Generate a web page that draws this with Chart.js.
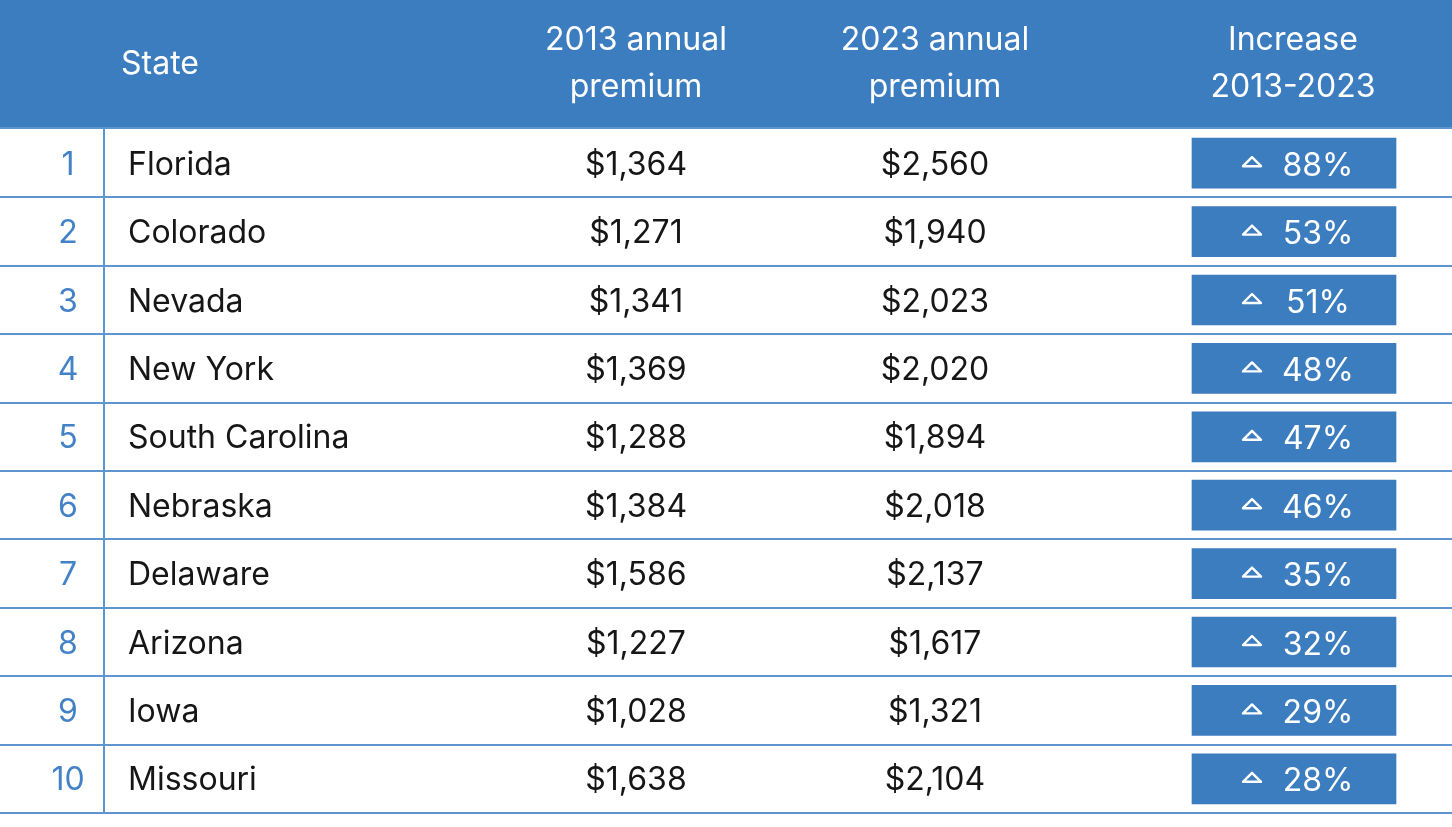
<!DOCTYPE html>
<html>
<head>
<meta charset="utf-8">
<script src="https://cdn.jsdelivr.net/npm/chart.js@4.4.0/dist/chart.umd.min.js"></script>
<style>
  html, body { margin: 0; padding: 0; background: #ffffff; }
  #wrap { width: 1452px; height: 827px; position: relative; }
</style>
</head>
<body>
<div id="wrap"><canvas id="c"></canvas></div>
<script>
// ---- DATA ----
const ranks = [1, 2, 3, 4, 5, 6, 7, 8, 9, 10];
const states = ["Florida", "Colorado", "Nevada", "New York", "South Carolina", "Nebraska", "Delaware", "Arizona", "Iowa", "Missouri"];
const premium2013 = [1364, 1271, 1341, 1369, 1288, 1384, 1586, 1227, 1028, 1638];
const premium2023 = [2560, 1940, 2023, 2020, 1894, 2018, 2137, 1617, 1321, 2104];
const increasePct = [88, 53, 51, 48, 47, 46, 35, 32, 29, 28];
const headerState = "State";
const header2013 = ["2013 annual", "premium"];
const header2023 = ["2023 annual", "premium"];
const headerIncrease = ["Increase", "2013-2023"];

// ---- LAYOUT / STYLE ----
const W = 1452, H = 827;
const HEADER_H = 127;
const BLUE = "#3c7dc0";
const LINE = "#5f95cf";
const RANK_COLOR = "#4382c6";
const TEXT = "#161616";
const FONT = "Inter, 'Noto Sans', sans-serif";
const FS = 32;
const TEXT_DY = 2;
const COL = { rankX: 68, divX: 104, stateX: 128, c2013: 636, c2023: 935, badgeL: 1192, badgeR: 1396, triX: 1252, pctX: 1318, headStateX: 121, headInc: 1293 };

const fmt = v => "$" + v.toLocaleString("en-US");

const tablePlugin = {
  id: "tablePlugin",
  beforeDraw(chart) {
    const ctx = chart.ctx;
    ctx.save();
    ctx.fillStyle = "#ffffff";
    ctx.fillRect(0, 0, W, H);
    ctx.fillStyle = BLUE;
    ctx.fillRect(0, 0, W, HEADER_H);
    // header text
    ctx.fillStyle = "#ffffff";
    ctx.font = FS + "px " + FONT;
    ctx.textBaseline = "alphabetic";
    ctx.textAlign = "left";
    ctx.fillText(headerState, COL.headStateX, 74);
    ctx.textAlign = "center";
    ctx.fillText(header2013[0], COL.c2013, 50);
    ctx.fillText(header2013[1], COL.c2013, 97);
    ctx.fillText(header2023[0], COL.c2023, 50);
    ctx.fillText(header2023[1], COL.c2023, 97);
    ctx.fillText(headerIncrease[0], COL.headInc, 50);
    ctx.fillText(headerIncrease[1], COL.headInc, 97);
    // row lines
    const y = chart.scales.y;
    ctx.strokeStyle = LINE;
    ctx.lineWidth = 2;
    const half = (y.getPixelForValue(1) - y.getPixelForValue(0)) / 2;
    for (let i = 0; i < states.length; i++) {
      const yb = Math.round(y.getPixelForValue(i) + half);
      ctx.beginPath();
      ctx.moveTo(0, yb);
      ctx.lineTo(W, yb);
      ctx.stroke();
    }
    const top = y.getPixelForValue(0) - half;
    const bot = y.getPixelForValue(states.length - 1) + half;
    ctx.beginPath();
    ctx.moveTo(0, top - 1);
    ctx.lineTo(W, top - 1);
    ctx.stroke();
    ctx.beginPath();
    ctx.moveTo(COL.divX, top);
    ctx.lineTo(COL.divX, bot);
    ctx.stroke();
    ctx.restore();
  },
  afterDatasetsDraw(chart) {
    const ctx = chart.ctx;
    const y = chart.scales.y;
    ctx.save();
    ctx.font = FS + "px " + FONT;
    ctx.textBaseline = "middle";
    for (let i = 0; i < states.length; i++) {
      const rc = y.getPixelForValue(i);
      const cy = rc + TEXT_DY;
      ctx.fillStyle = RANK_COLOR;
      ctx.textAlign = "center";
      ctx.fillText(String(ranks[i]), COL.rankX, cy);
      ctx.fillStyle = TEXT;
      ctx.textAlign = "left";
      ctx.fillText(states[i], COL.stateX, cy);
      ctx.textAlign = "center";
      ctx.fillText(fmt(premium2013[i]), COL.c2013, cy);
      ctx.fillText(fmt(premium2023[i]), COL.c2023, cy);
      // badge content
      ctx.fillStyle = "#ffffff";
      ctx.fillText(increasePct[i] + "%", COL.pctX, cy + 1);
      // triangle icon
      ctx.strokeStyle = "#ffffff";
      ctx.lineWidth = 2.4;
      ctx.lineJoin = "round";
      ctx.beginPath();
      ctx.moveTo(COL.triX - 9, rc + 3);
      ctx.lineTo(COL.triX, rc - 6);
      ctx.lineTo(COL.triX + 9, rc + 3);
      ctx.closePath();
      ctx.stroke();
    }
    ctx.restore();
  }
};

new Chart(document.getElementById("c"), {
  type: "bar",
  data: {
    labels: states,
    datasets: [{
      label: "Increase 2013-2023",
      data: increasePct.map(() => [COL.badgeL, COL.badgeR]),
      backgroundColor: BLUE,
      borderWidth: 0,
      barThickness: 50
    }]
  },
  options: {
    indexAxis: "y",
    responsive: true,
    maintainAspectRatio: false,
    animation: false,
    layout: { padding: { top: HEADER_H + 2, bottom: 14, left: 0, right: 0 } },
    plugins: { legend: { display: false }, tooltip: { enabled: false } },
    scales: {
      x: { type: "linear", min: 0, max: W, display: false },
      y: { type: "category", display: false, offset: true }
    }
  },
  plugins: [tablePlugin]
});
</script>
</body>
</html>
